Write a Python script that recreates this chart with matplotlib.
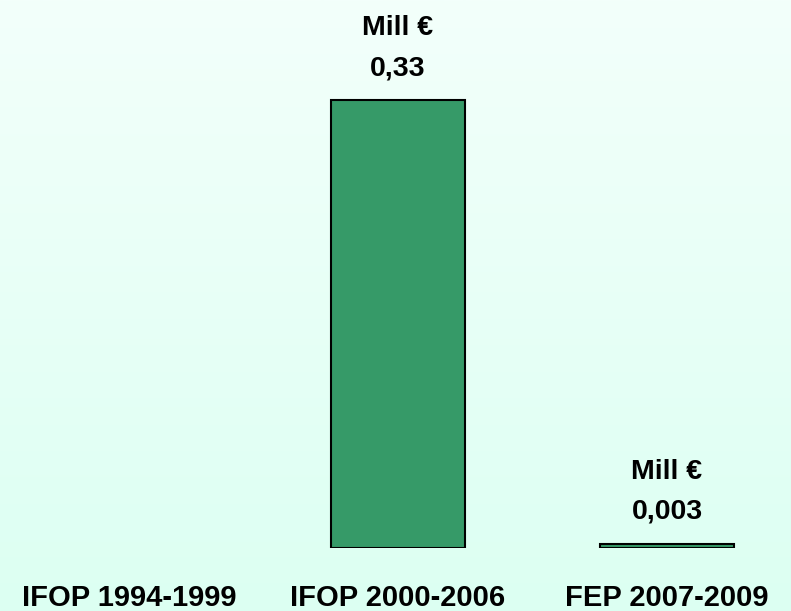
import numpy as np
import matplotlib.pyplot as plt
from matplotlib.colors import LinearSegmentedColormap

categories = ["IFOP 1994-1999", "IFOP 2000-2006", "FEP 2007-2009"]
values = [0.0, 0.33, 0.003]
value_labels = ["", "0,33", "0,003"]
unit = "Mill €"

plt.rcParams['font.family'] = ['Liberation Sans', 'DejaVu Sans']

fig = plt.figure(figsize=(7.91, 6.11), dpi=100)

# background gradient
bg = fig.add_axes([0, 0, 1, 1])
cmap = LinearSegmentedColormap.from_list("bg", ["#dcfff2", "#f3fffb"])
grad = np.linspace(0, 1, 256).reshape(-1, 1)
bg.imshow(grad, aspect='auto', cmap=cmap, origin='lower', extent=[0, 1, 0, 1])
bg.axis('off')

ax = fig.add_axes([0, 63 / 611, 1, 548 / 611])
ax.patch.set_alpha(0)
x = np.arange(len(categories))
lw = [1.5 if v > 0 else 0 for v in values]
ax.bar(x, values, width=0.5, color="#369a68", edgecolor="black", linewidth=lw)
ax.set_xlim(-129 / 269, (791 - 129) / 269)
ax.set_ylim(0, 0.33 * 548 / 448)
ax.axis('off')

for i, v in enumerate(values):
    if v <= 0:
        continue
    ax.annotate(value_labels[i], (x[i], v), xytext=(0, 25), textcoords='offset pixels',
                ha='center', va='baseline', fontsize=20.5, fontweight='bold')
    ax.annotate(unit, (x[i], v), xytext=(0, 65), textcoords='offset pixels',
                ha='center', va='baseline', fontsize=20.5, fontweight='bold')

for i, c in enumerate(categories):
    ax.annotate(c, (x[i], 0), xycoords=('data', 'axes fraction'), xytext=(0, -58),
                textcoords='offset pixels', ha='center', va='baseline',
                fontsize=21, fontweight='bold', annotation_clip=False)

fig.savefig("out.png", dpi=100)
